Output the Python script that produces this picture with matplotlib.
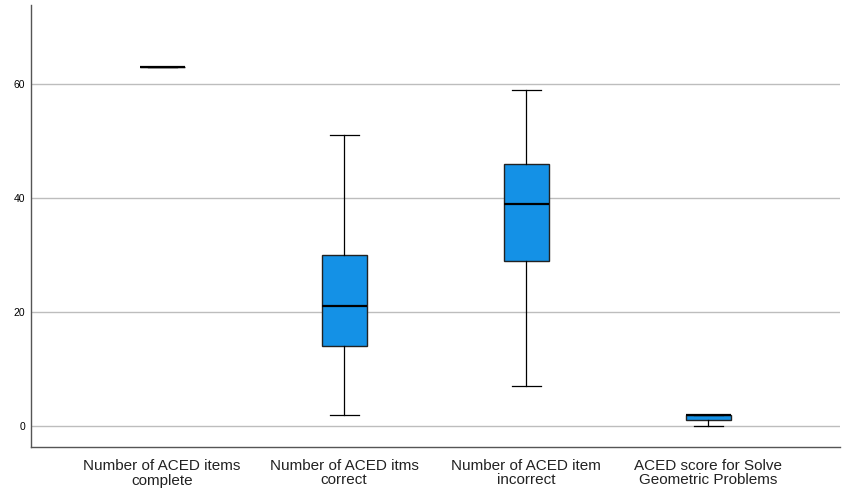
import matplotlib
matplotlib.use("Agg")
import matplotlib.pyplot as plt

plt.rcParams['font.family'] = ['Liberation Sans', 'DejaVu Sans']

# values (min, q1, median, q3, max)
labels = ["Number of ACED items\ncomplete", "Number of ACED itms\ncorrect",
          "Number of ACED item\nincorrect", "ACED score for Solve\nGeometric Problems"]
mins = [63, 2, 7, 0]
q1s = [63, 14, 29, 1]
medians = [63, 21, 39, 2]
q3s = [63, 30, 46, 2]
maxs = [63, 51, 59, 2]
yticks = [0, 20, 40, 60]

stats = []
for i in range(len(labels)):
    stats.append({"whislo": mins[i], "q1": q1s[i], "med": medians[i],
                  "q3": q3s[i], "whishi": maxs[i], "fliers": [], "label": labels[i]})

fig = plt.figure(figsize=(8.5, 5), dpi=100)
ax = fig.add_axes([0.0365, 0.106, 0.952, 0.884])

ax.bxp(stats, positions=range(len(labels)), widths=0.247, patch_artist=True,
       boxprops=dict(facecolor="#1491e6", edgecolor="#222222", linewidth=1),
       medianprops=dict(color="black", linewidth=1.6),
       whiskerprops=dict(color="black", linewidth=0.9),
       capprops=dict(color="black", linewidth=0.9),
       capwidths=0.16, zorder=3)

ax.set_xlim(-0.72, 3.725)
ax.set_ylim(-3.7, 73.9)
ax.set_yticks(yticks)
ax.set_yticklabels([str(t) for t in yticks], fontsize=7.5)
ax.set_xticklabels(labels, fontsize=11, color="#222222", linespacing=1.0)
ax.tick_params(axis="y", length=0, pad=4)
ax.tick_params(axis="x", length=0, pad=9)
ax.grid(axis="y", color="#bdbdbd", linewidth=1, zorder=0)
ax.set_axisbelow(True)
for side in ["top", "right"]:
    ax.spines[side].set_visible(False)
for side in ["left", "bottom"]:
    ax.spines[side].set_color("#555555")
    ax.spines[side].set_linewidth(1)

fig.savefig("out.png", dpi=100)
